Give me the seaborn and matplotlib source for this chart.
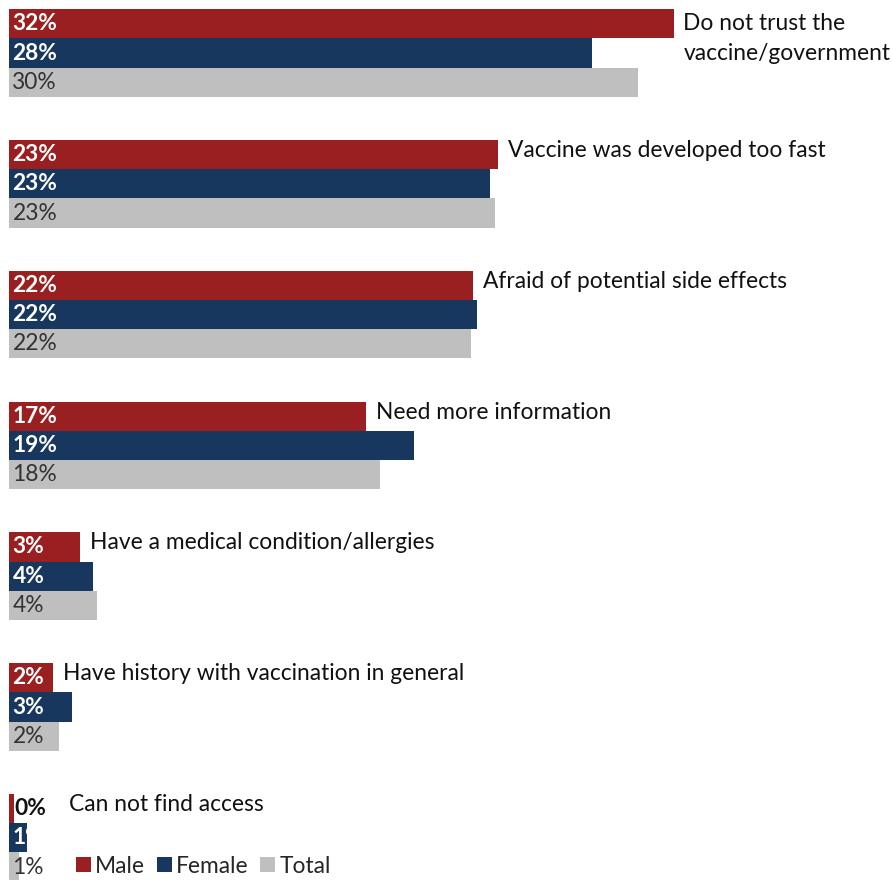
import matplotlib
matplotlib.use("Agg")
import matplotlib.pyplot as plt
from matplotlib.patches import Patch
import seaborn as sns
import pandas as pd

categories = [
    "Do not trust the\nvaccine/government",
    "Vaccine was developed too fast",
    "Afraid of potential side effects",
    "Need more information",
    "Have a medical condition/allergies",
    "Have history with vaccination in general",
    "Can not find access",
]
series = ["Male", "Female", "Total"]
male = [31.8, 23.4, 22.2, 17.1, 3.4, 2.1, 0.24]
female = [27.9, 23.0, 22.4, 19.4, 4.0, 3.0, 0.86]
total = [30.1, 23.25, 22.1, 17.75, 4.2, 2.4, 0.5]
colors = {"Male": "#9A1F21", "Female": "#17375E", "Total": "#BFBFBF"}

rows = []
for i, c in enumerate(categories):
    for s, vals in zip(series, [male, female, total]):
        rows.append({"category": c, "series": s, "value": vals[i]})
df = pd.DataFrame(rows)

sns.set_style("white")
plt.rcParams["font.family"] = ["Lato", "DejaVu Sans"]

fig = plt.figure(figsize=(8.93, 8.8), dpi=100)
ax = fig.add_axes([0, 0, 1, 1])
sns.barplot(data=df, y="category", x="value", hue="series", order=categories,
            hue_order=series, palette=colors, orient="h", width=0.67,
            dodge=True, ax=ax, legend=False, saturation=1, linewidth=0)

px_per = 20.9
ax.set_xlim(-9 / px_per, (893 - 9) / px_per)
ax.set_ylim((880 - 53) / 130.8, -53 / 130.8)
ax.axis("off")

fs = 16.4
for si, (s, cont) in enumerate(zip(series, ax.containers)):
    vals = [male, female, total][si]
    for i, bar in enumerate(cont):
        v = vals[i]
        yc = bar.get_y() + bar.get_height() / 2
        lab = f"{int(v + 0.5)}%"
        if s == "Total":
            t = ax.annotate(lab, (0, yc), xytext=(2.5, 0), textcoords="offset points",
                            ha="left", va="center", fontsize=fs, color="#333333")
        else:
            if v >= 0.5:
                t = ax.annotate(lab, (0, yc), xytext=(2.5, 0), textcoords="offset points",
                                ha="left", va="center", fontsize=fs, color="white",
                                fontweight="bold")
            else:
                t = ax.annotate(lab, (v, yc), xytext=(0.5, 0), textcoords="offset points",
                                ha="left", va="center", fontsize=fs, color="#111111",
                                fontweight="bold")
            if s == "Female":
                t.set_clip_path(bar)

# category labels to the right of the male bar
mcont = ax.containers[0]
for i, c in enumerate(categories):
    bar = mcont[i]
    yc = bar.get_y() + bar.get_height() / 2
    x = male[i] if male[i] >= 0.5 else 2.4
    if "\n" in c:
        ax.annotate(c, (x, bar.get_y() + bar.get_height()), xytext=(7, 0),
                    textcoords="offset points", ha="left", va="center",
                    fontsize=fs, color="#111111", linespacing=1.5)
    else:
        ax.annotate(c, (x, yc), xytext=(7, 3), textcoords="offset points",
                    ha="left", va="center", fontsize=fs, color="#111111")

handles = [Patch(facecolor=colors[s], edgecolor="none", label=s) for s in series]
fig.legend(handles=handles, loc="center left", bbox_to_anchor=(76 / 893, 1 - 866 / 880),
           frameon=False, ncol=3, fontsize=fs, handlelength=0.65, handleheight=0.65,
           columnspacing=0.5, handletextpad=0.2, borderpad=0, borderaxespad=0)

fig.savefig("out.png", dpi=100)
